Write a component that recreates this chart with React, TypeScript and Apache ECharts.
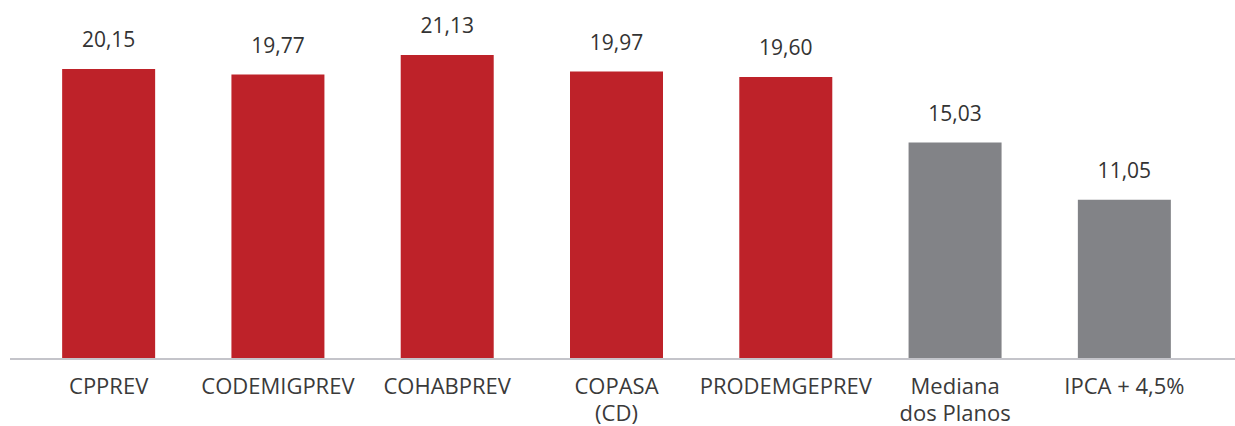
import React, { useEffect, useRef } from "react";
import * as echarts from "echarts";

const categories = [
  "CPPREV",
  "CODEMIGPREV",
  "COHABPREV",
  "COPASA\n(CD)",
  "PRODEMGEPREV",
  "Mediana\ndos Planos",
  "IPCA + 4,5%",
];
const values = [20.15, 19.77, 21.13, 19.97, 19.6, 15.03, 11.05];
const barColors = ["#BE2229", "#BE2229", "#BE2229", "#BE2229", "#BE2229", "#828387", "#828387"];

export default function App() {
  const ref = useRef<HTMLDivElement>(null);
  useEffect(() => {
    document.body.style.margin = "0";
    const chart = echarts.init(ref.current!, null, { renderer: "svg" });
    const font = "'Open Sans', sans-serif";
    chart.setOption({
      animation: false,
      grid: { left: 24, right: 26, top: 42.4, bottom: 67.5, containLabel: false },
      xAxis: {
        type: "category",
        data: categories,
        axisLine: { show: false },
        axisTick: { show: false },
        axisLabel: {
          color: "#3a3a3a",
          fontSize: 22,
          lineHeight: 27,
          margin: 13,
          fontFamily: font,
          interval: 0,
        },
      },
      yAxis: {
        type: "value",
        min: 0,
        max: 22,
        show: false,
        splitLine: { show: false },
      },
      graphic: [
        {
          type: "line",
          shape: { x1: 10, y1: 359, x2: 1235, y2: 359 },
          style: { stroke: "#C4C4CA", lineWidth: 2 },
          z: 10,
        },
      ],
      series: [
        {
          type: "bar",
          barWidth: 93,
          data: values.map((v, i) => ({ value: v, itemStyle: { color: barColors[i] } })),
          label: {
            show: true,
            position: "top",
            distance: 19,
            color: "#333333",
            fontSize: 21,
            fontFamily: font,
            formatter: (p: any) => p.value.toFixed(2).replace(".", ","),
          },
        },
      ],
    });
    return () => chart.dispose();
  }, []);
  return <div ref={ref} style={{ width: 1235, height: 426 }} />;
}
